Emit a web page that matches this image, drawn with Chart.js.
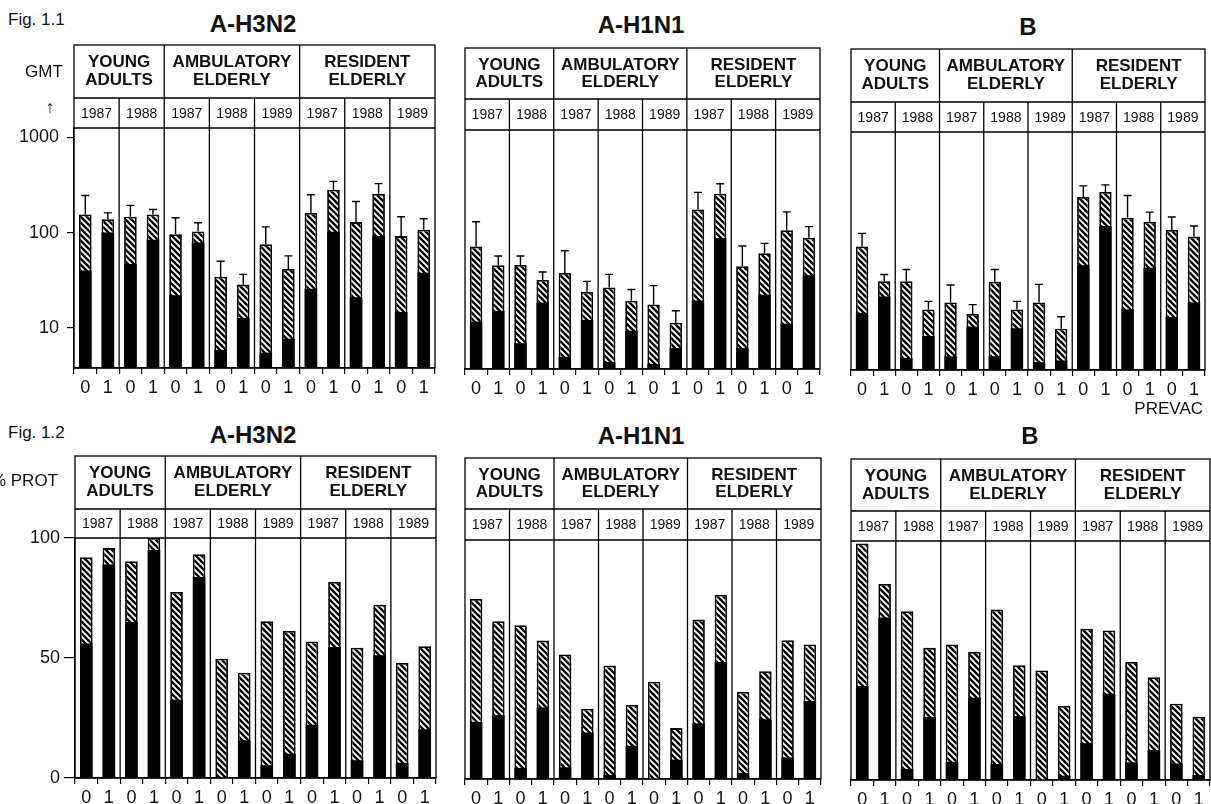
<!DOCTYPE html>
<html>
<head>
<meta charset="utf-8">
<script src="https://cdn.jsdelivr.net/npm/chart.js@4.4.1/dist/chart.umd.min.js"></script>
<style>
  html, body { margin: 0; padding: 0; background: #fff; }
  #page { position: relative; width: 1211px; height: 804px; overflow: hidden; background: #fff;
          font-family: "Liberation Sans", Arial, sans-serif; color: #111; }
  .lbl { position: absolute; white-space: nowrap; line-height: 1; }
  canvas { position: absolute; }
</style>
</head>
<body>
<div id="page"></div>
<script>
// categories
const prevacLabels = ['0','1','0','1','0','1','0','1','0','1','0','1','0','1','0','1'];
const groupNames = [['YOUNG', 'ADULTS'], ['AMBULATORY', 'ELDERLY'], ['RESIDENT', 'ELDERLY']];
const groupSpans = [4, 6, 6];
const yearLabels = ['1987', '1988', '1987', '1988', '1989', '1987', '1988', '1989'];
const gmtTicks = [10, 100, 1000];
const protTicks = [0, 50, 100];

// Fig. 1.1 GMT (black = pre part, bar top = post, err = error bar top)
const gmtH3N2Post = [155, 138, 147, 155, 96, 103, 34.5, 28.5, 75.5, 41.5, 161, 282, 129, 255, 92, 107];
const gmtH3N2Pre  = [40, 100, 47, 84, 22, 79, 5.9, 12.7, 5.5, 7.7, 25.7, 102, 21, 92, 14.7, 38];
const gmtH3N2Err  = [245, 161, 193, 175, 143, 127, 50, 36.5, 115, 57, 250, 345, 212, 327, 147, 140];

const gmtH1N1Post = [74, 47, 47.5, 33, 39, 24.7, 27.4, 19.9, 18.2, 11.7, 182, 267, 46, 63, 110, 92];
const gmtH1N1Pre  = [12, 15.6, 7.1, 19, 5.1, 12.5, 4.5, 9.6, 4.3, 6.3, 20, 91, 6.3, 23, 11.4, 37];
const gmtH1N1Err  = [135, 59, 59, 40, 67, 31.8, 37.7, 26.1, 28.7, 15.6, 276, 340, 75, 80, 172, 120];

const gmtBPost = [77, 33, 33, 16.6, 19.7, 14.9, 32.7, 16.6, 19.7, 10.4, 257, 290, 155, 141, 115, 98];
const gmtBPre  = [15.3, 22.8, 5.1, 8.7, 5.3, 10.9, 5.3, 10.5, 4.6, 4.8, 48.8, 127, 16.6, 46, 13.8, 19.7];
const gmtBErr  = [106, 38.9, 44, 20.2, 30.1, 18.7, 44, 20.2, 30.6, 13.9, 337, 345, 267, 178, 158, 127];

// Fig. 1.2 % protected
const protH3N2Post = [92, 95.8, 90.3, 100, 77.5, 93.2, 49.7, 43.9, 65.3, 61.3, 56.9, 81.7, 54.3, 72.2, 47.9, 54.9];
const protH3N2Pre  = [56, 89, 65, 95, 32.6, 83.7, 0, 15.7, 5.3, 10.1, 22.2, 54.6, 7.4, 51.1, 6.3, 20.3];

const protH1N1Post = [75.3, 66, 64.3, 57.9, 52.1, 29.4, 47.5, 31, 40.7, 21.3, 66.7, 77.1, 36.4, 45.1, 58.1, 56.3];
const protH1N1Pre  = [23.9, 26.7, 4.6, 29.9, 4.9, 19.4, 1.7, 13.9, 0, 8.1, 23.3, 49, 2.5, 25, 9, 32.6];

const protBPost = [99, 82, 70.6, 55.3, 56.7, 53.6, 71.3, 48, 45.8, 31, 63.3, 62.6, 49.4, 43, 31.9, 26.5];
const protBPre  = [39.3, 68, 4.6, 26.4, 7.6, 34.4, 6.7, 26.8, 0, 1.8, 15.4, 36.1, 7.4, 12.5, 6.9, 2.1];

const page = document.getElementById('page');
const FONT = '"Liberation Sans", Arial, sans-serif';
Chart.defaults.font.family = FONT;
Chart.defaults.color = '#111';

function label(text, x, y, size, align, bold) {
  const d = document.createElement('div');
  d.className = 'lbl';
  d.textContent = text;
  d.style.fontSize = size + 'px';
  if (bold) d.style.fontWeight = 'bold';
  d.style.top = y + 'px';
  if (align === 'center') { d.style.left = x + 'px'; d.style.transform = 'translate(-50%,-50%)'; }
  else if (align === 'right') { d.style.right = (1211 - x) + 'px'; d.style.transform = 'translateY(-50%)'; }
  else { d.style.left = x + 'px'; d.style.transform = 'translateY(-50%)'; }
  page.appendChild(d);
}

function makeHatch() {
  const s = 6;
  const c = document.createElement('canvas');
  c.width = c.height = s;
  const g = c.getContext('2d');
  g.fillStyle = '#fff';
  g.fillRect(0, 0, s, s);
  g.strokeStyle = '#000';
  g.lineWidth = 2.4;
  g.beginPath();
  g.moveTo(-1, -1); g.lineTo(s + 1, s + 1);
  g.moveTo(-1, s - 1); g.lineTo(1, s + 1);
  g.moveTo(s - 1, -1); g.lineTo(s + 1, 1);
  g.stroke();
  return g.createPattern(c, 'repeat');
}
const hatch = makeHatch();

function panelPlugin(p) {
  return {
    id: 'panelHeader',
    afterDatasetsDraw(chart) {
      if (!p.err) return;
      const meta = chart.getDatasetMeta(1);
      const y = chart.scales.y;
      const ctx = chart.ctx;
      ctx.save();
      ctx.strokeStyle = '#000';
      ctx.lineWidth = 1.4;
      meta.data.forEach((bar, i) => {
        const yc = y.getPixelForValue(p.err[i]);
        ctx.beginPath();
        ctx.moveTo(bar.x, bar.y);
        ctx.lineTo(bar.x, yc);
        ctx.moveTo(bar.x - 4, yc);
        ctx.lineTo(bar.x + 4, yc);
        ctx.stroke();
      });
      ctx.restore();
    },
    afterDraw(chart) {
      const ctx = chart.ctx, a = chart.chartArea, x = chart.scales.x;
      const n = prevacLabels.length;
      const bnd = i => i === 0 ? a.left : i === n ? a.right
        : (x.getPixelForValue(i - 1) + x.getPixelForValue(i)) / 2;
      const top = a.top - p.headerH, mid = a.top - p.yearH;
      ctx.save();
      ctx.strokeStyle = '#000';
      ctx.lineWidth = 1.3;
      ctx.strokeRect(a.left, top, a.right - a.left, a.bottom - top);
      ctx.beginPath();
      ctx.moveTo(a.left, mid); ctx.lineTo(a.right, mid);
      ctx.moveTo(a.left, a.top); ctx.lineTo(a.right, a.top);
      let idx = 0;
      const groupEdges = [0];
      groupSpans.forEach(s => { idx += s; groupEdges.push(idx); });
      for (let i = 2; i < n; i += 2) {
        const gx = bnd(i);
        ctx.moveTo(gx, groupEdges.includes(i) ? top : mid);
        ctx.lineTo(gx, a.bottom);
      }
      ctx.stroke();

      ctx.fillStyle = '#111';
      ctx.textAlign = 'center';
      ctx.textBaseline = 'middle';
      ctx.font = 'bold 17px ' + FONT;
      const gh = p.headerH - p.yearH;
      groupNames.forEach((lines, g) => {
        const cx = (bnd(groupEdges[g]) + bnd(groupEdges[g + 1])) / 2;
        ctx.fillText(lines[0], cx, top + gh * 0.33);
        ctx.fillText(lines[1], cx, top + gh * 0.67);
      });
      ctx.font = '14px ' + FONT;
      yearLabels.forEach((yr, k) => {
        const cx = (bnd(2 * k) + bnd(2 * k + 2)) / 2;
        ctx.fillText(yr, cx, (mid + a.top) / 2 + 1);
      });
      ctx.restore();
    }
  };
}

function buildChart(p) {
  const canvas = document.createElement('canvas');
  canvas.width = p.w; canvas.height = p.h;
  canvas.style.left = p.left + 'px'; canvas.style.top = p.top + 'px';
  canvas.style.width = p.w + 'px'; canvas.style.height = p.h + 'px';
  page.appendChild(canvas);

  const isLog = p.kind === 'gmt';
  const yScale = {
    type: isLog ? 'logarithmic' : 'linear',
    display: p.showY,
    min: isLog ? 3.8 : 0,
    max: isLog ? 1252 : 100,
    afterFit: s => { s.width = p.yAxisW || 0; },
    afterBuildTicks: s => { s.ticks = (isLog ? gmtTicks : protTicks).map(v => ({ value: v })); },
    ticks: { callback: v => String(v), padding: isLog ? 8 : 4, color: '#111', font: { size: 18 } },
    grid: { drawOnChartArea: false, tickLength: isLog ? 7 : 11, color: '#000', lineWidth: 1.2 },
    border: { color: '#000', width: 1.3 }
  };

  new Chart(canvas, {
    type: 'bar',
    data: {
      labels: prevacLabels,
      datasets: [
        { label: 'Pre', data: p.pre, backgroundColor: '#000', borderWidth: 0, order: 1,
          grouped: false, barPercentage: 0.56, categoryPercentage: 1 },
        { label: 'Post', data: p.post, backgroundColor: hatch, borderColor: '#000', borderWidth: 1.8,
          order: 2, grouped: false, barPercentage: 0.56, categoryPercentage: 1 }
      ]
    },
    options: {
      responsive: false,
      animation: false,
      devicePixelRatio: 1,
      layout: { padding: { left: p.padL || 0, right: p.padR, top: p.padT, bottom: 0 } },
      plugins: { legend: { display: false }, tooltip: { enabled: false } },
      scales: {
        x: {
          offset: true,
          grid: { offset: true, drawOnChartArea: false, tickLength: 6, color: '#000', lineWidth: 1.2 },
          border: { color: '#000', width: 1.5 },
          ticks: { autoSkip: false, maxRotation: 0, padding: 3, color: '#111', font: { size: 18 } },
          afterFit: s => { s.height = p.xH; }
        },
        y: yScale
      }
    },
    plugins: [panelPlugin(p)]
  });
}

const panels = [
  { kind: 'gmt', left: 0, top: 40, w: 440, h: 370, showY: true, yAxisW: 74, padR: 5, padT: 88, xH: 42,
    headerH: 83, yearH: 30, pre: gmtH3N2Pre, post: gmtH3N2Post, err: gmtH3N2Err },
  { kind: 'gmt', left: 445, top: 40, w: 380, h: 370, showY: false, padL: 20, padR: 5, padT: 90, xH: 41,
    headerH: 82, yearH: 31, pre: gmtH1N1Pre, post: gmtH1N1Post, err: gmtH1N1Err },
  { kind: 'gmt', left: 831, top: 40, w: 380, h: 370, showY: false, padL: 20, padR: 6, padT: 92, xH: 40,
    headerH: 83, yearH: 30, pre: gmtBPre, post: gmtBPost, err: gmtBErr },
  { kind: 'prot', left: 0, top: 450, w: 440, h: 354, showY: true, yAxisW: 75, padR: 4, padT: 88, xH: 26,
    headerH: 82, yearH: 29, pre: protH3N2Pre, post: protH3N2Post },
  { kind: 'prot', left: 445, top: 450, w: 380, h: 354, showY: false, padL: 20, padR: 4, padT: 90, xH: 25,
    headerH: 82, yearH: 31, pre: protH1N1Pre, post: protH1N1Post },
  { kind: 'prot', left: 831, top: 450, w: 380, h: 354, showY: false, padL: 20, padR: 1, padT: 91, xH: 24,
    headerH: 82, yearH: 30, pre: protBPre, post: protBPost }
];
panels.forEach(buildChart);

// figure texts
label('Fig. 1.1', 8, 19, 17, 'left');
label('A-H3N2', 253, 24, 24, 'center', true);
label('A-H1N1', 641, 25, 24, 'center', true);
label('B', 1028, 27, 24, 'center', true);
label('GMT', 44, 71, 17, 'center');
label('\u2191', 50, 107, 18, 'center', true);
label('PREVAC', 1203, 408, 17, 'right');

label('Fig. 1.2', 8, 432, 17, 'left');
label('A-H3N2', 253, 435, 24, 'center', true);
label('A-H1N1', 641, 436, 24, 'center', true);
label('B', 1030, 436, 24, 'center', true);
label('% PROT', 58, 480, 17, 'right');
</script>
</body>
</html>
